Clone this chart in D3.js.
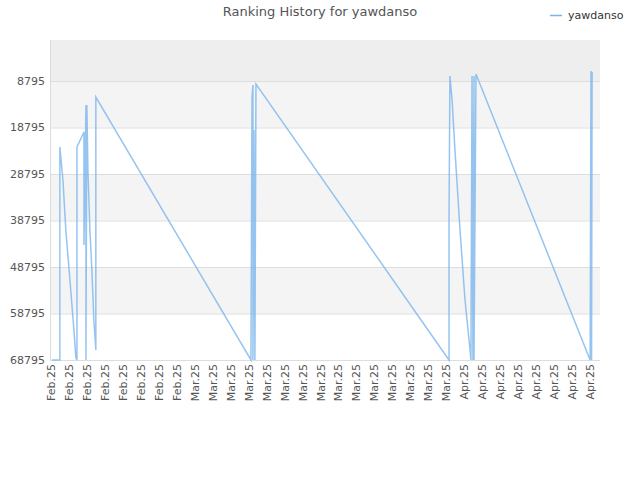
<!DOCTYPE html>
<html><head><meta charset="utf-8">
<script src="https://cdn.jsdelivr.net/npm/d3@7"></script>
<style>body{margin:0;background:#fff;font-family:"DejaVu Sans",sans-serif;}</style>
</head><body><div id="chart"></div>
<script>
var xLabels = ["Feb.25","Feb.25","Feb.25","Feb.25","Feb.25","Feb.25","Feb.25","Feb.25",
	"Mar.25","Mar.25","Mar.25","Mar.25","Mar.25","Mar.25","Mar.25","Mar.25","Mar.25","Mar.25","Mar.25","Mar.25","Mar.25","Mar.25","Mar.25",
	"Apr.25","Apr.25","Apr.25","Apr.25","Apr.25","Apr.25","Apr.25","Apr.25"];
var yTicks = [8795, 18795, 28795, 38795, 48795, 58795, 68795];
// time position (in label steps) and rank
var times = [0.06,0.50,0.50,0.67,0.83,1.06,1.28,1.39,1.45,1.45,1.84,1.84,1.95,1.95,2.00,2.06,2.17,2.28,2.39,2.50,2.50,
	11.13,11.19,11.24,11.24,11.30,11.35,11.41,
	22.15,22.15,22.20,22.32,22.48,22.76,23.04,23.32,23.37,23.43,23.48,23.54,23.54,23.65,
	30.0,30.05,30.08,30.11];
var ranks = [68795,68795,22989,30086,40838,51591,62343,68365,68795,22989,19763,44064,13957,68795,13957,27935,40838,49440,60193,66644,12237,
	68795,12237,9656,68795,19333,68795,9441,
	68795,38688,7720,12882,23634,40838,55892,66644,68795,7720,68795,7720,68795,7290,
	68795,6645,68795,6860];

var width = 640, height = 480;
var plotLeft = 50, plotRight = 600, plotTop = 40, plotBottom = 360;

var svg = d3.select("#chart").append("svg").attr("width", width).attr("height", height);

var x = d3.scaleLinear().domain([-0.05, 30.55]).range([plotLeft, plotRight]);
var y = d3.scaleLinear().domain([-22, 68795]).range([plotTop, plotBottom]);

// alternating bands
var bands = [-22].concat(yTicks);
for (var i = 0; i < bands.length - 1; i++)
{
	var fill = i === 0 ? "#eeeeee" : (i % 2 === 1 ? "#f4f4f4" : "#ffffff");
	svg.append("rect").attr("x", plotLeft).attr("width", plotRight - plotLeft)
		.attr("y", y(bands[i])).attr("height", y(bands[i + 1]) - y(bands[i]))
		.style("fill", fill);
}

svg.selectAll("line.grid").data(yTicks).enter().append("line")
	.attr("x1", plotLeft).attr("x2", plotRight)
	.attr("y1", function (d) { return y(d) + 0.5; }).attr("y2", function (d) { return y(d) + 0.5; })
	.style("stroke", "#dddddd");
svg.append("line").attr("x1", plotLeft + 0.5).attr("x2", plotLeft + 0.5).attr("y1", plotTop).attr("y2", plotBottom).style("stroke", "#dddddd");

svg.selectAll("text.ytick").data(yTicks).enter().append("text")
	.attr("x", plotLeft - 5).attr("y", function (d) { return y(d) + 4; })
	.attr("text-anchor", "end").style("font-size", "11px").style("fill", "#555")
	.text(function (d) { return d; });

svg.selectAll("text.xtick").data(xLabels).enter().append("text")
	.attr("transform", function (d, i) { return "translate(" + (x(i) + 4) + "," + (plotBottom + 4) + ") rotate(-90)"; })
	.attr("text-anchor", "end").style("font-size", "11px").style("fill", "#555")
	.text(function (d) { return d; });

var points = times.map(function (t, i) { return [t, ranks[i]]; });
var line = d3.line().x(function (d) { return x(d[0]); }).y(function (d) { return y(d[1]); });
svg.append("path").datum(points).attr("d", line)
	.style("fill", "none").style("stroke", "#7cb5ec").style("stroke-width", 1.5).style("opacity", 0.8);

svg.append("text").attr("x", 320).attr("y", 16).attr("text-anchor", "middle")
	.style("font-size", "13px").style("fill", "#555").text("Ranking History for yawdanso");

svg.append("line").attr("x1", 550).attr("x2", 562).attr("y1", 15.5).attr("y2", 15.5)
	.style("stroke", "#7cb5ec").style("stroke-width", 1.5);
svg.append("text").attr("x", 568).attr("y", 19).style("font-size", "11px").style("fill", "#333").text("yawdanso");
</script></body></html>
